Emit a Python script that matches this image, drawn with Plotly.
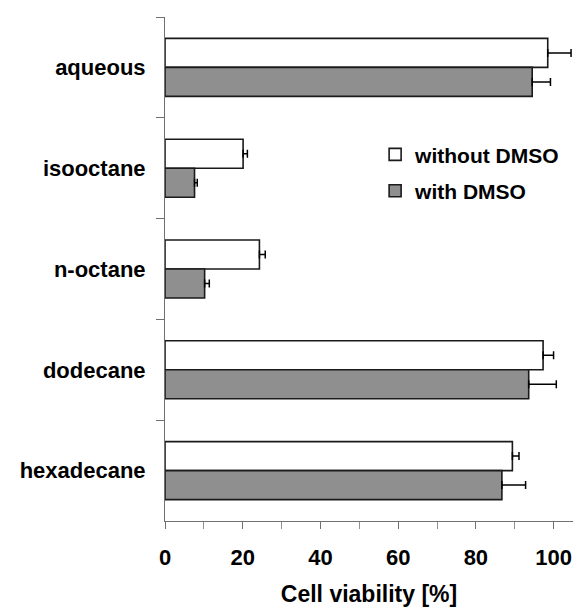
import plotly.graph_objects as go

categories = ["aqueous", "isooctane", "n-octane", "dodecane", "hexadecane"]
without_dmso = [98.5, 20.1, 24.3, 97.3, 89.4]
without_dmso_err = [6.0, 1.1, 1.5, 2.7, 1.7]
with_dmso = [94.5, 7.6, 10.2, 93.6, 86.7]
with_dmso_err = [4.7, 0.7, 1.2, 7.1, 6.1]
series_names = ["without DMSO", "with DMSO"]
x_ticks = [0, 20, 40, 60, 80, 100]

FONT = "Liberation Sans, Arial, sans-serif"

fig = go.Figure()
fig.add_trace(go.Bar(
    y=categories, x=without_dmso, orientation="h", name=series_names[0],
    legendgroup="a",
    marker=dict(color="#ffffff", line=dict(color="#1a1a1a", width=1.6)),
    error_x=dict(type="data", array=without_dmso_err, arrayminus=[0] * len(categories),
                 symmetric=False, color="#000000", thickness=1.5, width=4),
))
fig.add_trace(go.Bar(
    y=categories, x=with_dmso, orientation="h", name=series_names[1],
    legendgroup="b",
    marker=dict(color="#8f8f8f", line=dict(color="#1a1a1a", width=1.6)),
    error_x=dict(type="data", array=with_dmso_err, arrayminus=[0] * len(categories),
                 symmetric=False, color="#000000", thickness=1.5, width=4),
))

fig.update_layout(
    width=585, height=607,
    margin=dict(l=165, r=12, t=17, b=86, autoexpand=False),
    paper_bgcolor="white", plot_bgcolor="white",
    barmode="group", bargap=0.425, bargroupgap=0,
    font=dict(family=FONT, color="#000000"),
    legend=dict(
        x=0.515, xanchor="left", y=0.691, yanchor="middle",
        font=dict(family=FONT, size=21, color="#000000", weight="bold"),
        traceorder="grouped", tracegroupgap=6,
        bgcolor="rgba(0,0,0,0)",
    ),
    showlegend=True,
)
fig.update_xaxes(
    range=[0, 105], tickvals=x_ticks, ticktext=[str(v) for v in x_ticks],
    ticks="outside", ticklen=7, tickcolor="#707070", tickwidth=1,
    minor=dict(dtick=10, tick0=0, ticks="outside", ticklen=7, tickcolor="#909090"),
    showline=True, linecolor="#707070", linewidth=1,
    showgrid=False, zeroline=False, automargin=False,
    tickfont=dict(family=FONT, size=22, color="#000000", weight="bold"),
    ticklabelstandoff=10,
    title=dict(text="Cell viability [%]", font=dict(family=FONT, size=23, color="#000000", weight="bold"),
               standoff=20),
)
fig.update_yaxes(
    categoryorder="array", categoryarray=categories, autorange="reversed",
    tickson="boundaries", ticks="outside", ticklen=8, tickcolor="#707070", tickwidth=1,
    showline=True, linecolor="#707070", linewidth=1,
    showgrid=False, zeroline=False, automargin=False,
    tickfont=dict(family=FONT, size=22, color="#000000", weight="bold"),
    ticklabelstandoff=14,
)

fig.write_html("out.html", config={"displayModeBar": False},
               post_script="document.body.style.margin='0';")
